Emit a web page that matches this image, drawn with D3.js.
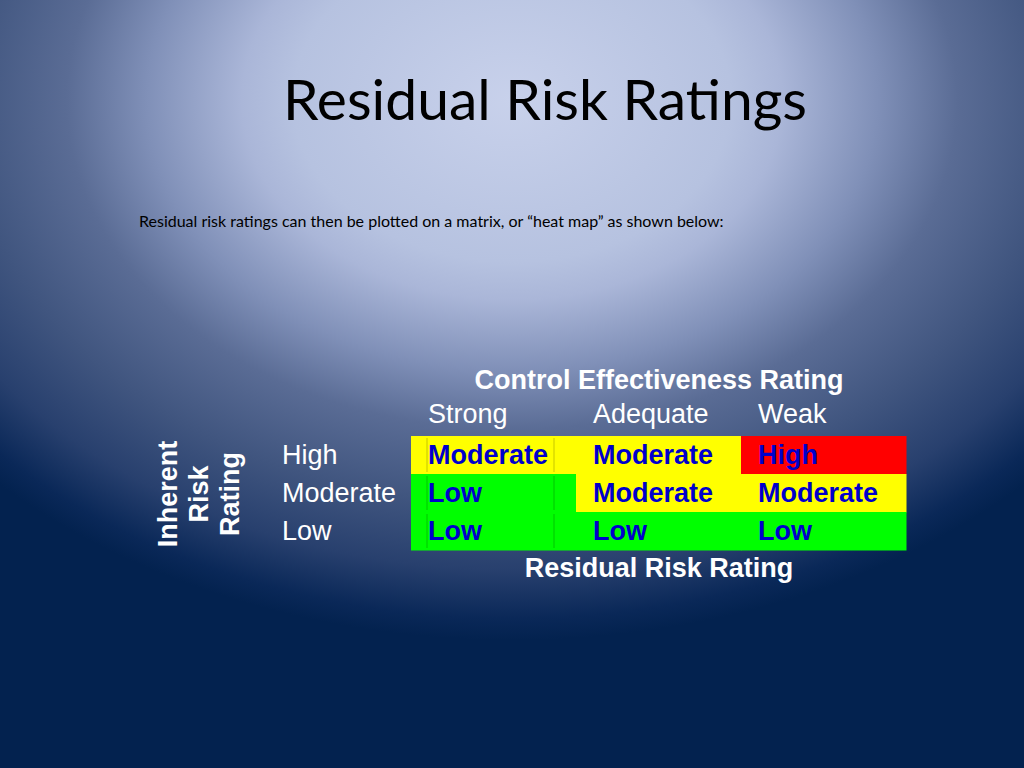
<!DOCTYPE html>
<html>
<head>
<meta charset="utf-8">
<script src="https://cdn.jsdelivr.net/npm/d3@7"></script>
<style>
  html, body { margin: 0; padding: 0; background: #03224f; }
  svg { display: block; }
</style>
</head>
<body>
<div id="content"></div>
<script>
// heat map data
var CONTROLS = ['Strong', 'Adequate', 'Weak'];
var INHERENT = ['High', 'Moderate', 'Low'];
var RESIDUAL_HIGH = ['Moderate', 'Moderate', 'High'];
var RESIDUAL_MODERATE = ['Low', 'Moderate', 'Moderate'];
var RESIDUAL_LOW = ['Low', 'Low', 'Low'];
var LEVELS = ['Low', 'Moderate', 'High'];
var LEVEL_COLOURS = ['#00ff00', '#ffff00', '#ff0000'];
var SIDE_LABEL = ['Inherent', 'Risk', 'Rating'];

function main() {
    var width = 1024;
    var height = 768;

    var cells = [];
    [RESIDUAL_HIGH, RESIDUAL_MODERATE, RESIDUAL_LOW].forEach(function (row, r) {
        row.forEach(function (v, c) {
            cells.push({row: INHERENT[r], col: CONTROLS[c], value: v});
        });
    });

    var svg = d3.select('#content')
    .append('svg')
    .attr('width', width)
    .attr('height', height);

    // slide background
    var defs = svg.append('defs');
    var grad = defs.append('radialGradient')
    .attr('id', 'bg')
    .attr('gradientUnits', 'userSpaceOnUse')
    .attr('cx', 0).attr('cy', 0).attr('r', 1)
    .attr('gradientTransform', 'translate(512,100) scale(730,540)');
    [[0, '#c8d1eb'], [0.3, '#b6c2e0'], [0.37, '#aab6d8'], [0.5, '#8090b8'], [0.61, '#5a6c95'],
     [0.75, '#40557f'], [0.87, '#28406e'], [0.96, '#0a2858'], [1, '#03224f']]
    .forEach(function (s) {
        grad.append('stop').attr('offset', s[0]).attr('stop-color', s[1]);
    });
    svg.append('rect')
    .attr('width', width)
    .attr('height', height)
    .attr('fill', 'url(#bg)');

    svg.append('text')
    .attr('x', 545)
    .attr('y', 120)
    .attr('text-anchor', 'middle')
    .attr('font-family', 'Lato, sans-serif')
    .attr('font-size', 57)
    .attr('fill', '#000')
    .text('Residual Risk Ratings');

    svg.append('text')
    .attr('x', 139)
    .attr('y', 227)
    .attr('font-family', 'Lato, sans-serif')
    .attr('font-size', 16)
    .attr('fill', '#000')
    .text('Residual risk ratings can then be plotted on a matrix, or \u201cheat map\u201d as shown below:');

    var x = d3.scaleBand()
    .domain(CONTROLS)
    .range([411, 906]);
    var y = d3.scaleBand()
    .domain(INHERENT)
    .range([436, 550]);
    var colour = d3.scaleOrdinal()
    .domain(LEVELS)
    .range(LEVEL_COLOURS);

    var font = 'Liberation Sans, Arial, sans-serif';

    svg.selectAll('.cell')
    .data(cells)
    .enter()
    .append('rect')
    .attr('class', 'cell')
    .attr('x', function (d) {return x(d.col)})
    .attr('y', function (d) {return y(d.row)})
    .attr('width', x.bandwidth() + 0.5)
    .attr('height', y.bandwidth() + 0.5)
    .attr('fill', function (d) {return colour(d.value)});

    // faint leftover table rules in the first column
    svg.selectAll('.rule')
    .data(d3.cross(INHERENT, [16, x.bandwidth() - 22]))
    .enter()
    .append('line')
    .attr('class', 'rule')
    .attr('x1', function (d) {return x(CONTROLS[0]) + d[1]})
    .attr('x2', function (d) {return x(CONTROLS[0]) + d[1]})
    .attr('y1', function (d) {return y(d[0]) + 2})
    .attr('y2', function (d) {return y(d[0]) + y.bandwidth() - 2})
    .attr('stroke', '#000')
    .attr('stroke-opacity', 0.22)
    .attr('stroke-width', 1);

    svg.selectAll('.cell-label')
    .data(cells)
    .enter()
    .append('text')
    .attr('class', 'cell-label')
    .attr('x', function (d) {return x(d.col) + 17})
    .attr('y', function (d) {return y(d.row) + y.bandwidth() / 2 + 9})
    .attr('font-family', font)
    .attr('font-weight', 'bold')
    .attr('font-size', 27)
    .attr('fill', '#0000cc')
    .text(function (d) {return d.value});

    svg.selectAll('.col-label')
    .data(CONTROLS)
    .enter()
    .append('text')
    .attr('class', 'col-label')
    .attr('x', function (d) {return x(d) + 17})
    .attr('y', 423)
    .attr('font-family', font)
    .attr('font-size', 27)
    .attr('fill', '#fff')
    .text(function (d) {return d});

    svg.selectAll('.row-label')
    .data(INHERENT)
    .enter()
    .append('text')
    .attr('class', 'row-label')
    .attr('x', 282)
    .attr('y', function (d) {return y(d) + y.bandwidth() / 2 + 9})
    .attr('font-family', font)
    .attr('font-size', 27)
    .attr('fill', '#fff')
    .text(function (d) {return d});

    svg.append('text')
    .attr('x', 659)
    .attr('y', 389)
    .attr('text-anchor', 'middle')
    .attr('font-family', font)
    .attr('font-weight', 'bold')
    .attr('font-size', 27)
    .attr('fill', '#fff')
    .text('Control Effectiveness Rating');

    svg.append('text')
    .attr('x', 659)
    .attr('y', 577)
    .attr('text-anchor', 'middle')
    .attr('font-family', font)
    .attr('font-weight', 'bold')
    .attr('font-size', 27)
    .attr('fill', '#fff')
    .text('Residual Risk Rating');

    svg.append('g')
    .attr('transform', 'translate(177, 494) rotate(-90)')
    .selectAll('text')
    .data(SIDE_LABEL)
    .enter()
    .append('text')
    .attr('x', 0)
    .attr('y', function (d, i) {return i * 31})
    .attr('text-anchor', 'middle')
    .attr('font-family', font)
    .attr('font-weight', 'bold')
    .attr('font-size', 27)
    .attr('fill', '#fff')
    .text(function (d) {return d});
}

main();
</script>
</body>
</html>
